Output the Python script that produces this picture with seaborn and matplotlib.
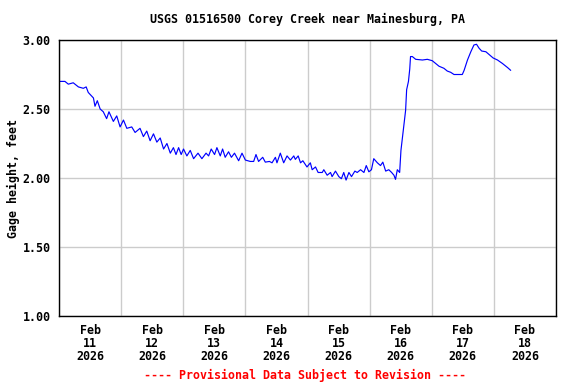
import pandas as pd
import matplotlib
matplotlib.use("Agg")
import matplotlib.pyplot as plt
import matplotlib.dates as mdates
import seaborn as sns

# Gage height readings, hours after 2026-02-11 00:00
hours = [0, 2.3, 3.6, 5.5, 7.5, 9.4, 10.5, 11.3, 13.3, 13.9, 14.8, 15.9, 17.1, 18.4,
         19.3, 21.0, 22.3, 23.6, 24.9, 26.2, 28.1, 29.4, 31.3, 32.6, 33.9, 35.2,
         36.5, 37.8, 39.1, 40.4, 41.7, 43.0, 44.2, 45.2, 46.2, 47.2, 48.1, 49.4,
         50.7, 52.0, 53.7, 55.2, 56.8, 57.8, 58.8, 60.1, 61.0, 62.3, 63.2, 64.2,
         65.5, 66.6, 67.8, 69.4, 70.7, 72.0, 73.9, 75.2, 76.1, 77.1, 78.7, 79.7,
         81.3, 82.3, 83.6, 84.2, 85.5, 86.8, 88.1, 89.4, 90.7, 91.3, 92.4, 93.3,
         94.2, 94.9, 95.8, 97.1, 97.8, 99.1, 100.1, 101.7, 102.3, 103.6, 104.9,
         105.5, 106.8, 108.1, 109.1, 110.0, 110.9, 112.0, 113.0, 114.3, 115.2,
         116.5, 117.8, 118.7, 119.7, 120.7, 121.6, 123.0, 124.2, 125.1, 126.2,
         127.4, 128.5, 129.4, 130.0, 130.7, 131.6, 132.1, 132.6, 133.2, 133.9,
         134.3, 135.0, 135.5, 135.8, 136.5, 137.8, 140.4, 142.3, 144.2, 145.5,
         146.8, 148.7, 150.0, 151.3, 152.6, 155.8, 156.5, 157.8, 159.1, 160.3,
         161.3, 162.3, 163.3, 164.9, 166.1, 167.7, 169.4, 171.3, 173.3, 174.5]
gage_ft = [2.70, 2.70, 2.68, 2.69, 2.66, 2.65, 2.66, 2.62, 2.58, 2.52, 2.56, 2.50, 2.48, 2.43,
           2.48, 2.41, 2.45, 2.37, 2.42, 2.36, 2.37, 2.33, 2.36, 2.30, 2.34, 2.27,
           2.32, 2.26, 2.29, 2.21, 2.25, 2.18, 2.22, 2.17, 2.22, 2.17, 2.21, 2.16,
           2.20, 2.14, 2.18, 2.14, 2.18, 2.16, 2.21, 2.17, 2.22, 2.16, 2.21, 2.15,
           2.19, 2.15, 2.18, 2.125, 2.18, 2.13, 2.12, 2.12, 2.17, 2.12, 2.15, 2.115,
           2.12, 2.11, 2.15, 2.11, 2.18, 2.11, 2.16, 2.13, 2.16, 2.135, 2.16, 2.11,
           2.125, 2.105, 2.08, 2.11, 2.06, 2.08, 2.04, 2.04, 2.06, 2.02, 2.04,
           2.01, 2.05, 2.01, 1.995, 2.04, 1.985, 2.04, 2.01, 2.05, 2.04,
           2.06, 2.04, 2.09, 2.045, 2.06, 2.14, 2.11, 2.09, 2.115, 2.05,
           2.06, 2.04, 2.02, 1.99, 2.06, 2.04, 2.20, 2.28, 2.38, 2.49,
           2.64, 2.70, 2.79, 2.88, 2.88, 2.86, 2.855, 2.86, 2.85, 2.83,
           2.81, 2.795, 2.775, 2.766, 2.75, 2.75, 2.78, 2.855, 2.915, 2.964,
           2.969, 2.94, 2.92, 2.915, 2.896, 2.87, 2.855, 2.83, 2.80, 2.78]

title = "USGS 01516500 Corey Creek near Mainesburg, PA"
ylabel = "Gage height, feet"
footer = "---- Provisional Data Subject to Revision ----"

start = pd.Timestamp("2026-02-11")
df = pd.DataFrame({"time": start + pd.to_timedelta(hours, unit="h"),
                   "gage": gage_ft})

sns.set_style("white")
plt.rcParams["font.family"] = ["DejaVu Sans Mono"]
plt.rcParams["font.weight"] = "bold"
plt.rcParams["text.color"] = "black"
plt.rcParams["xtick.color"] = "black"
plt.rcParams["ytick.color"] = "black"

fig = plt.figure(figsize=(5.76, 3.84), dpi=100)
ax = fig.add_axes([59 / 576, 1 - 316 / 384, 497 / 576, 276 / 384])

sns.lineplot(data=df, x="time", y="gage", ax=ax, color="#0000ff", linewidth=0.85)

ax.set_xlim(start, start + pd.Timedelta(days=8))
ax.set_ylim(1.0, 3.0)
ax.set_yticks([1.0, 1.5, 2.0, 2.5, 3.0])
ax.set_yticklabels(["1.00", "1.50", "2.00", "2.50", "3.00"])

ax.xaxis.set_major_locator(mdates.HourLocator(byhour=12))
ax.xaxis.set_major_formatter(mdates.DateFormatter("%b\n%d\n%Y"))
ax.xaxis.set_minor_locator(mdates.DayLocator())

ax.grid(False)
ax.grid(which="minor", axis="x", color="#cccccc", linewidth=1.0)
ax.grid(which="major", axis="y", color="#cccccc", linewidth=1.0)
ax.set_axisbelow(True)

ax.tick_params(axis="both", which="both", length=0, labelsize=8.4,
               labelcolor="black")
ax.tick_params(axis="y", pad=6)
ax.tick_params(axis="x", pad=6)
for lbl in ax.get_xticklabels():
    lbl.set_linespacing(1.0)
    lbl.set_fontweight("bold")
for lbl in ax.get_yticklabels():
    lbl.set_fontweight("bold")

for s in ax.spines.values():
    s.set_color("black")
    s.set_linewidth(1.0)

ax.set_xlabel("")
ax.set_ylabel("")

fig.text(13 / 576, 1 - 178 / 384, ylabel, ha="center", va="center",
         rotation=90, fontsize=8.4, fontweight="bold", color="black")
fig.text(307 / 576, 1 - 19 / 384, title, ha="center", va="center",
         fontsize=8.4, fontweight="bold", color="black")
fig.text(305 / 576, 1 - 375 / 384, footer, ha="center", va="center",
         fontsize=8.4, fontweight="bold", color="red")

fig.savefig("out.png", dpi=100, facecolor="white")
